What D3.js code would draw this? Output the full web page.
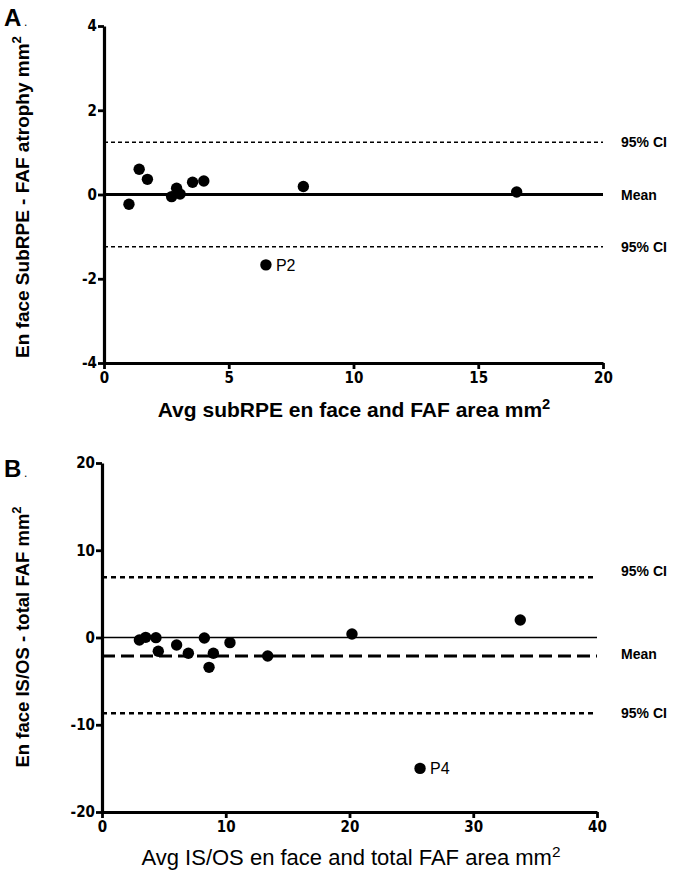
<!DOCTYPE html>
<html><head><meta charset="utf-8">
<script src="https://cdn.jsdelivr.net/npm/d3@7"></script>
<style>
body{margin:0;background:#fff;}
svg{display:block;font-family:"Liberation Sans",Arial,sans-serif;}
</style></head><body>
<svg id="c" width="682" height="871"></svg>
<script>
// Panel A data
const aX = [1.0, 1.41, 1.74, 2.71, 2.91, 3.05, 3.55, 4.0, 7.99, 16.54, 6.49];
const aY = [-0.23, 0.60, 0.36, -0.05, 0.15, 0.01, 0.29, 0.32, 0.19, 0.06, -1.67];
const aLabels = ["", "", "", "", "", "", "", "", "", "", "P2"];
const aMean = 0, aCIup = 1.24, aCIlo = -1.24;
const aXTicks = [0, 5, 10, 15, 20];
const aYTicks = [-4, -2, 0, 2, 4];

// Panel B data
const bX = [3.02, 3.53, 4.36, 4.55, 6.03, 6.98, 8.27, 9.0, 8.65, 10.34, 13.39, 20.2, 33.8, 25.7];
const bY = [-0.29, 0.02, -0.02, -1.58, -0.86, -1.81, -0.06, -1.81, -3.42, -0.59, -2.12, 0.4, 2.0, -15.0];
const bLabels = ["", "", "", "", "", "", "", "", "", "", "", "", "", "P4"];
const bMean = -2.12, bCIup = 6.9, bCIlo = -8.69;
const bXTicks = [0, 10, 20, 30, 40];
const bYTicks = [-20, -10, 0, 10, 20];

const svg = d3.select("#c");

function panel(o) {
  const x = d3.scaleLinear().domain(o.xd).range([o.l, o.r]);
  const y = d3.scaleLinear().domain(o.yd).range([o.b, o.t]);
  const g = svg.append("g");

  const refLine = (v, w, dash) => g.append("line")
    .attr("x1", x(o.xd[0])).attr("x2", x(o.xd[1]))
    .attr("y1", y(v)).attr("y2", y(v))
    .attr("stroke", "#000").attr("stroke-width", w)
    .attr("stroke-dasharray", dash);

  o.lines.forEach(L => refLine(L.v, L.w, L.dash));

  const fmt = d => String(d);
  const xa = g.append("g").attr("transform", `translate(0,${o.b})`)
    .call(d3.axisBottom(x).tickValues(o.xt).tickFormat(fmt).tickSize(6).tickSizeOuter(0).tickPadding(3));
  const ya = g.append("g").attr("transform", `translate(${o.l},0)`)
    .call(d3.axisLeft(y).tickValues(o.yt).tickFormat(fmt).tickSize(6).tickSizeOuter(0).tickPadding(1));
  [xa, ya].forEach(a => {
    a.select(".domain").attr("stroke-width", 3.2);
    a.selectAll(".tick line").attr("stroke-width", 2.8);
    a.selectAll(".tick text").attr("font-size", 15).attr("font-weight", "bold")
      .attr("font-family", '"DejaVu Sans Condensed","Liberation Sans Narrow","Arial Narrow",sans-serif')
      .attr("fill", "#000");
  });

  const pts = o.xs.map((v, i) => [v, o.ys[i], o.labs[i]]);
  g.selectAll("circle.pt").data(pts)
    .enter().append("circle").attr("class", "pt")
    .attr("cx", d => x(d[0])).attr("cy", d => y(d[1])).attr("r", 5.7).attr("fill", "#000");
  g.selectAll("text.pl").data(pts.filter(d => d[2]))
    .enter().append("text").attr("class", "pl")
    .attr("x", d => x(d[0]) + 10).attr("y", d => y(d[1]) + 6)
    .attr("font-size", 16).text(d => d[2]);

  o.rlabels.forEach(R => g.append("text").attr("x", 621).attr("y", y(R.v) + R.dy + 5)
    .attr("font-size", 14).attr("font-weight", "bold").text(R.t));

  const yt = g.append("text").attr("transform", `translate(${o.ytx},${o.ytc}) rotate(-90)`)
    .attr("text-anchor", "middle").attr("font-size", o.ytfs).attr("font-weight", "bold");
  yt.append("tspan").text(o.ytitle);
  yt.append("tspan").attr("dy", -8).attr("font-size", o.ytfs * 0.7).text("2");

  const xt = g.append("text").attr("x", o.xtx).attr("y", o.xty)
    .attr("text-anchor", "middle").attr("font-size", o.xtfs).attr("font-weight", o.xtw);
  xt.append("tspan").text(o.xtitle);
  xt.append("tspan").attr("dy", -8).attr("font-size", o.xtfs * 0.7).text("2");

  g.append("text").attr("x", 4).attr("y", o.py).attr("font-size", 24).attr("font-weight", "bold").text(o.plabel);
  g.append("text").attr("x", 24).attr("y", o.py).attr("font-size", 12).text(".");
}

panel({
  xd: [0, 20], yd: [-4, 4], l: 104, r: 603, t: 26, b: 363,
  xt: aXTicks, yt: aYTicks, xs: aX, ys: aY, labs: aLabels,
  lines: [{v: aCIup, w: 1.5, dash: "4,3"}, {v: aCIlo, w: 1.5, dash: "4,3"}, {v: aMean, w: 3, dash: null}],
  rlabels: [{v: aCIup, t: "95% CI", dy: 0}, {v: aMean, t: "Mean", dy: 0}, {v: aCIlo, t: "95% CI", dy: 0}],
  ytitle: "En face SubRPE - FAF atrophy mm", ytx: 29, ytc: 197, ytfs: 19,
  xtitle: "Avg subRPE en face and FAF area mm", xtx: 354, xty: 417, xtfs: 21, xtw: "bold",
  plabel: "A", py: 26
});

panel({
  xd: [0, 40], yd: [-20, 20], l: 102, r: 597, t: 463, b: 812,
  xt: bXTicks, yt: bYTicks, xs: bX, ys: bY, labs: bLabels,
  lines: [{v: bCIup, w: 2.5, dash: "5,4"}, {v: bCIlo, w: 2.5, dash: "5,4"}, {v: 0, w: 1.5, dash: null}, {v: bMean, w: 3, dash: "13,6"}],
  rlabels: [{v: bCIup, t: "95% CI", dy: -6}, {v: bMean, t: "Mean", dy: -2}, {v: bCIlo, t: "95% CI", dy: 0}],
  ytitle: "En face IS/OS  - total FAF mm", ytx: 29, ytc: 637, ytfs: 18.5,
  xtitle: "Avg IS/OS en face and total FAF area mm", xtx: 351, xty: 865, xtfs: 22, xtw: "normal",
  plabel: "B", py: 477
});
</script>
</body></html>
